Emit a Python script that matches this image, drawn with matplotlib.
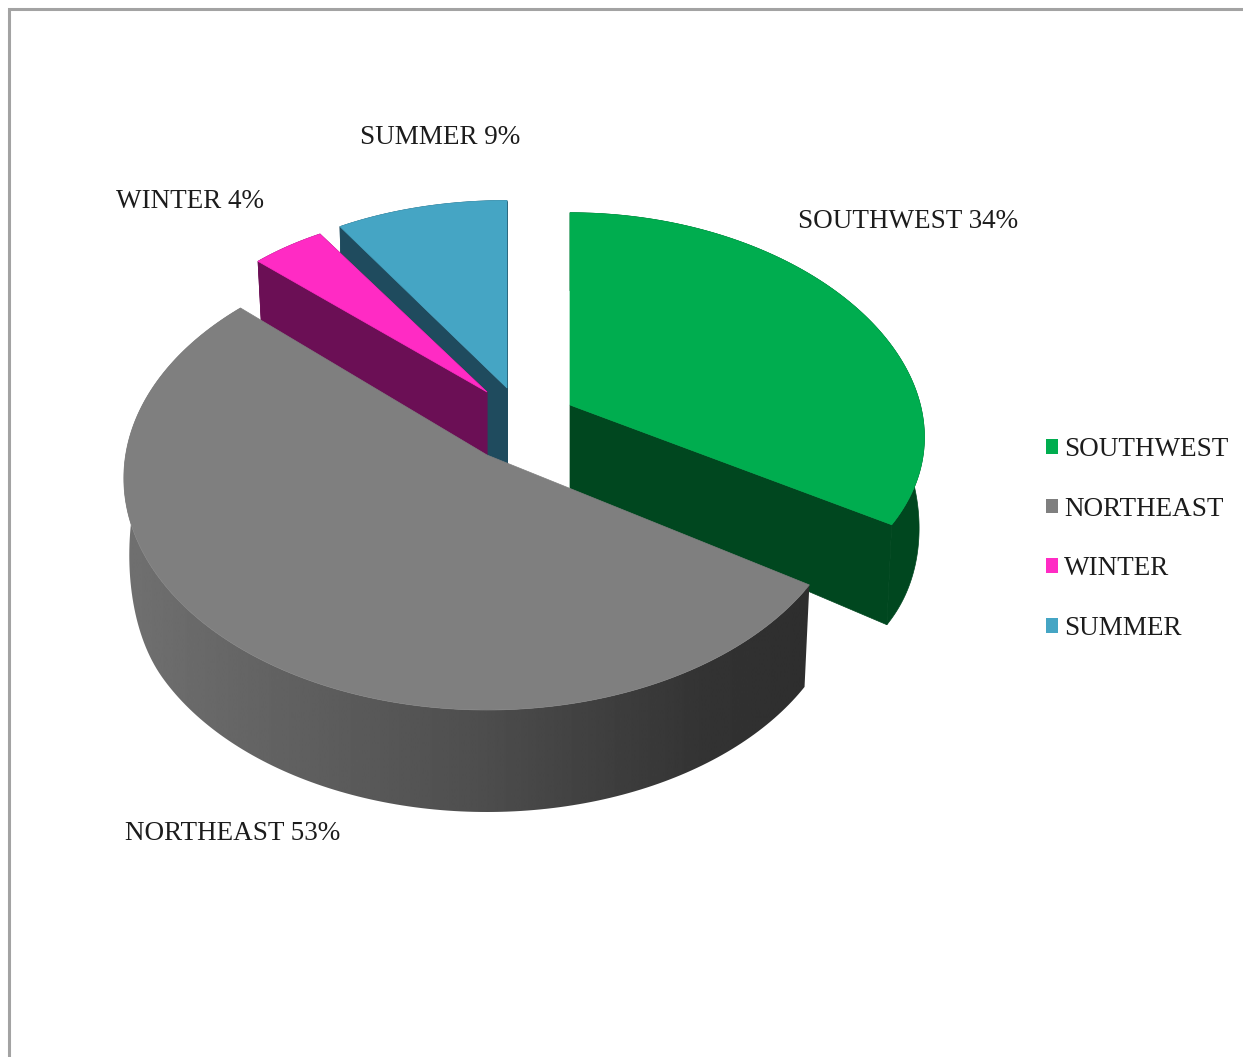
#3D exploded pie of wind / season shares, drawn by hand since matplotlib has no 3D pie
import numpy as np
from matplotlib import pyplot as plt
from matplotlib.patches import Polygon, Patch

plt.rcParams['font.family'] = ['Liberation Serif', 'DejaVu Serif']

# data
categories = ['SOUTHWEST', 'NORTHEAST', 'WINTER', 'SUMMER']
values = [34, 53, 4, 9]

# colours
top_colors = ['#00ad4f', '#7f7f7f', '#ff2bc4', '#45a5c4']
side_colors = ['#00471f', '#333333', '#6b0f55', '#1f4b5e']
text_color = '#1c1c1c'

# slice layout: apex of each slice in pixels, wall height at the back and front
apex_x = [570, 487, 487, 507]
apex_y = [405, 455, 392, 388]
depth_back = [78, 52, 65, 90]
depth_front = [100, 102, 65, 90]

# per slice size and perspective, far slices come out smaller
scale_x = [0.96, 0.99, 0.89, 0.89]
scale_y = [0.94, 1.02, 0.93, 0.95]
persp_x = [0.15, 0.10, 0.05, 0.05]
persp_y = [0.10, 0.10, 0.14, 0.14]

# label anchors
label_x = [798, 125, 116, 360]
label_y = [222, 834, 201, 137]

# ellipse of the pie
rx = 365
ry = 225
bottom_shrink = 0.985


# rim point of a slice, relative to its apex, angle clockwise from 12 o'clock
def rim(angle, i):
    u = np.sin(angle)
    v = -np.cos(angle)
    x = rx * scale_x[i] * u / (1 - persp_x[i] * v)
    y = ry * scale_y[i] * v / (1 - persp_y[i] * v)
    return x, y, v


# walls get taller towards the viewer, smoothstep keeps the outline round
def wall_depth(v, i):
    t = np.clip((v + 0.3) / 0.8, 0, 1)
    t = t * t * (3 - 2 * t)
    return depth_back[i] + (depth_front[i] - depth_back[i]) * t


fig = plt.figure(figsize=(12.43, 10.57), dpi=100)
ax = fig.add_axes([0, 0, 1, 1])
ax.set_xlim(0, 1243)
ax.set_ylim(1057, 0)
ax.axis('off')

# chart frame, runs off the right and bottom edge
ax.plot([9, 9, 1243], [1057, 9, 9], color='#a3a3a3', lw=2.2, solid_joinstyle='miter')

# slice angles from the values
edges = np.cumsum([0] + values) / sum(values) * 2 * np.pi

# far slices first, the big front slice last
for i in [3, 2, 0, 1]:
    t = np.linspace(edges[i], edges[i + 1], 200)
    x, y, v = rim(t, i)
    d = wall_depth(v, i)
    top_x = apex_x[i] + x
    top_y = apex_y[i] + y
    low_x = apex_x[i] + x * bottom_shrink
    low_y = top_y + d
    d_apex = wall_depth(0.0, i)

    # outer wall
    wall = np.column_stack([np.r_[top_x, low_x[::-1]], np.r_[top_y, low_y[::-1]]])
    if i == 1:
        # the big slice fades from mid grey on the left to nearly black on the right
        grad = np.interp(np.linspace(0, 1, 400), [0, 0.2, 0.5, 0.85, 1], [0.44, 0.39, 0.31, 0.20, 0.18])
        poly = Polygon(wall, fc='none', ec='none', zorder=5)
        ax.add_patch(poly)
        im = ax.imshow(grad[None, :], cmap='gray', vmin=0, vmax=1, aspect='auto',
                       extent=[wall[:, 0].min(), wall[:, 0].max(), wall[:, 1].max(), wall[:, 1].min()],
                       zorder=5, interpolation='bilinear')
        im.set_clip_path(poly)
        ax.set_xlim(0, 1243)
        ax.set_ylim(1057, 0)
        base = 5
    else:
        base = {3: 1, 2: 2, 0: 3}[i]
        ax.add_patch(Polygon(wall, fc=side_colors[i], ec=side_colors[i], lw=0.5, zorder=base))

        # cut faces at both ends of the slice, the big one shows neither
        for end in [0, -1]:
            face = [(apex_x[i], apex_y[i]), (top_x[end], top_y[end]),
                    (low_x[end], low_y[end]), (apex_x[i], apex_y[i] + d_apex)]
            ax.add_patch(Polygon(face, fc=side_colors[i], ec=side_colors[i], lw=0.5, zorder=base + 0.1))

    # top face
    top = np.column_stack([np.r_[apex_x[i], top_x], np.r_[apex_y[i], top_y]])
    ax.add_patch(Polygon(top, fc=top_colors[i], ec=top_colors[i], lw=0.5, zorder=base + 0.2))

# data labels
for i in range(len(categories)):
    ax.text(label_x[i], label_y[i], f'{categories[i]} {values[i]}%', fontsize=19.5,
            color=text_color, ha='left', va='center', zorder=10)

# legend
handles = [Patch(fc=c, ec='none', label=n) for c, n in zip(top_colors, categories)]
leg = ax.legend(handles=handles, loc='center left', bbox_to_anchor=(1046, 539),
                bbox_transform=ax.transData, frameon=False, fontsize=19.5, labelcolor=text_color,
                handlelength=0.45, handleheight=0.45, handletextpad=0.22, labelspacing=1.28,
                borderpad=0, borderaxespad=0)
leg.set_zorder(10)

plt.savefig('out.png', dpi=100)
